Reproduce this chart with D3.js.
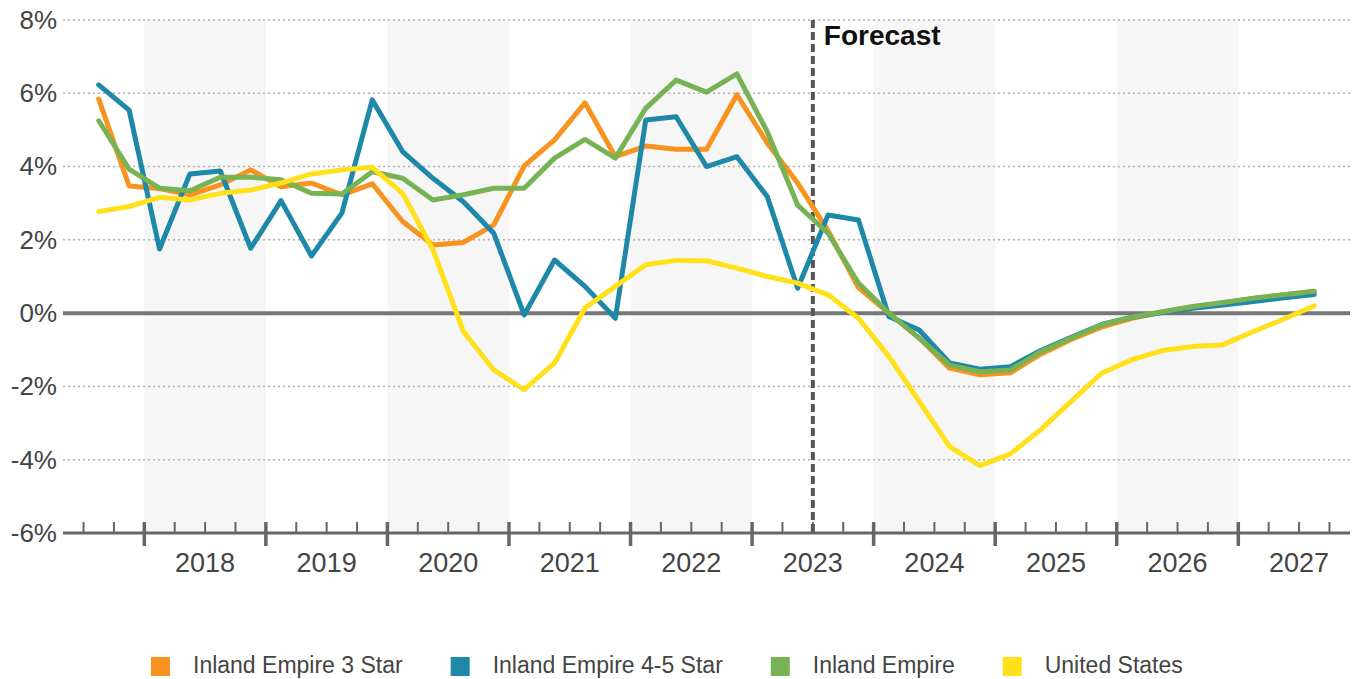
<!DOCTYPE html>
<html>
<head>
<meta charset="utf-8">
<script src="https://cdn.jsdelivr.net/npm/d3@7"></script>
<style>
  html, body { margin: 0; padding: 0; background: #fff; }
  svg { display: block; font-family: "Liberation Sans", Arial, sans-serif; }
</style>
</head>
<body>
<svg id="chart" width="1355" height="679"></svg>
<script>
// ---- Data ----
const periods = [
  "2017 Q3","2017 Q4",
  "2018 Q1","2018 Q2","2018 Q3","2018 Q4",
  "2019 Q1","2019 Q2","2019 Q3","2019 Q4",
  "2020 Q1","2020 Q2","2020 Q3","2020 Q4",
  "2021 Q1","2021 Q2","2021 Q3","2021 Q4",
  "2022 Q1","2022 Q2","2022 Q3","2022 Q4",
  "2023 Q1","2023 Q2","2023 Q3","2023 Q4",
  "2024 Q1","2024 Q2","2024 Q3","2024 Q4",
  "2025 Q1","2025 Q2","2025 Q3","2025 Q4",
  "2026 Q1","2026 Q2","2026 Q3","2026 Q4",
  "2027 Q1","2027 Q2","2027 Q3"
];

const ie3Star = [
  5.84, 3.47,
  3.40, 3.23, 3.50, 3.91,
  3.45, 3.55, 3.23, 3.53,
  2.50, 1.86, 1.93, 2.41,
  4.02, 4.73, 5.74, 4.27,
  4.56, 4.47, 4.47, 5.96,
  4.64, 3.55, 2.25, 0.70,
  0.00, -0.68, -1.50, -1.68,
  -1.63, -1.12, -0.72, -0.38,
  -0.14, 0.03, 0.17, 0.28,
  0.40, 0.50, 0.59
];

const ie45Star = [
  6.23, 5.54,
  1.75, 3.80, 3.88, 1.77,
  3.07, 1.56, 2.73, 5.82,
  4.41, 3.68, 3.04, 2.18,
  -0.05, 1.45, 0.73, -0.14,
  5.27, 5.36, 4.00, 4.27,
  3.18, 0.68, 2.68, 2.54,
  -0.09, -0.46, -1.36, -1.53,
  -1.46, -1.02, -0.66, -0.31,
  -0.11, 0.02, 0.13, 0.22,
  0.32, 0.42, 0.51
];

const ieTotal = [
  5.25, 3.93,
  3.41, 3.34, 3.71, 3.71,
  3.64, 3.27, 3.25, 3.86,
  3.68, 3.09, 3.23, 3.41,
  3.41, 4.23, 4.74, 4.23,
  5.59, 6.36, 6.03, 6.53,
  4.95, 2.95, 2.18, 0.82,
  0.00, -0.68, -1.42, -1.60,
  -1.55, -1.05, -0.68, -0.32,
  -0.11, 0.04, 0.18, 0.29,
  0.41, 0.50, 0.60
];

const unitedStates = [
  2.77, 2.91,
  3.16, 3.09, 3.27, 3.36,
  3.55, 3.80, 3.91, 3.98,
  3.27, 1.73, -0.50, -1.55,
  -2.09, -1.36, 0.14, 0.73,
  1.32, 1.44, 1.43, 1.23,
  1.00, 0.82, 0.50, -0.14,
  -1.18, -2.41, -3.64, -4.16,
  -3.84, -3.18, -2.41, -1.64,
  -1.27, -1.02, -0.91, -0.86,
  -0.50, -0.16, 0.20
];

const seriesNames = ["Inland Empire 3 Star", "Inland Empire 4-5 Star", "Inland Empire", "United States"];
const seriesColors = ["#F7931E", "#1D88A8", "#77B255", "#FFE01A"];
const seriesValues = [ie3Star, ie45Star, ieTotal, unitedStates];

const yearLabels = ["2018","2019","2020","2021","2022","2023","2024","2025","2026","2027"];
const yTicks = [-6, -4, -2, 0, 2, 4, 6, 8];
const forecastStart = "2023 Q3";
const forecastLabel = "Forecast";

// ---- Layout ----
const svg = d3.select("#chart");
const plotLeft = 63, plotRight = 1350, plotTop = 20, plotBottom = 533;

function periodToDecimal(p, offset) {
  const [yr, q] = p.split(" Q").map(Number);
  return yr + (q - 1) / 4 + offset;
}

const x = d3.scaleLinear().domain([2017.331, 2027.919]).range([plotLeft, plotRight]);
const y = d3.scaleLinear().domain([-6, 8]).range([plotBottom, plotTop]);

// Alternating year bands
const bandYears = yearLabels.filter((d, i) => i % 2 === 0).map(Number);
svg.append("g").selectAll("rect").data(bandYears).join("rect")
  .attr("x", d => x(d)).attr("width", d => x(d + 1) - x(d))
  .attr("y", plotTop).attr("height", plotBottom - plotTop)
  .attr("fill", "#f6f6f6");

// Gridlines (dotted)
svg.append("g").selectAll("line").data(yTicks.filter(d => d !== 0 && d !== -6)).join("line")
  .attr("x1", plotLeft).attr("x2", plotRight)
  .attr("y1", d => y(d)).attr("y2", d => y(d))
  .attr("stroke", "#b0b0b0").attr("stroke-width", 1.5)
  .attr("stroke-dasharray", "2,3");

// Zero line
svg.append("line")
  .attr("x1", plotLeft).attr("x2", plotRight)
  .attr("y1", y(0)).attr("y2", y(0))
  .attr("stroke", "#777").attr("stroke-width", 4);

// Y axis labels
const yAxis = d3.axisLeft(y).tickValues(yTicks).tickSize(0).tickPadding(6)
  .tickFormat(d => d + "%");
const yg = svg.append("g").attr("transform", `translate(${plotLeft},0)`).call(yAxis);
yg.select(".domain").remove();
yg.selectAll("text").attr("font-size", 26).attr("fill", "#444")
  .attr("font-family", "Liberation Sans, Arial, sans-serif");

// Bottom axis line
svg.append("line")
  .attr("x1", plotLeft).attr("x2", plotRight)
  .attr("y1", plotBottom).attr("y2", plotBottom)
  .attr("stroke", "#666").attr("stroke-width", 3);

// Quarter ticks
const allQuarterStarts = [];
for (let yr = 2017; yr <= 2027; yr++) {
  for (let q = 1; q <= 4; q++) {
    const v = yr + (q - 1) / 4;
    if (v > x.domain()[0] && v < x.domain()[1]) allQuarterStarts.push({ v, major: q === 1 });
  }
}
svg.append("g").selectAll("line").data(allQuarterStarts).join("line")
  .attr("x1", d => x(d.v)).attr("x2", d => x(d.v))
  .attr("y1", plotBottom - 11)
  .attr("y2", d => d.major ? plotBottom + 13 : plotBottom)
  .attr("stroke", "#666")
  .attr("stroke-width", d => d.major ? 3.5 : 2);

// Year labels
svg.append("g").selectAll("text").data(yearLabels).join("text")
  .attr("x", d => x(+d + 0.5)).attr("y", 572)
  .attr("text-anchor", "middle")
  .attr("font-size", 27).attr("fill", "#444")
  .text(d => d);

// Forecast divider
const fx = x(periodToDecimal(forecastStart, 0));
svg.append("line")
  .attr("x1", fx).attr("x2", fx).attr("y1", plotTop).attr("y2", plotBottom)
  .attr("stroke", "#555").attr("stroke-width", 4)
  .attr("stroke-dasharray", "8,4");
svg.append("text")
  .attr("x", fx + 11).attr("y", 45)
  .attr("font-size", 28).attr("font-weight", "bold").attr("fill", "#111")
  .text(forecastLabel);

// Lines
const line = d3.line()
  .x((d, i) => x(periodToDecimal(periods[i], 0.125)))
  .y(d => y(d));

svg.append("g").selectAll("path").data(seriesValues).join("path")
  .attr("d", d => line(d))
  .attr("fill", "none")
  .attr("stroke", (d, i) => seriesColors[i])
  .attr("stroke-width", 5)
  .attr("stroke-linejoin", "round")
  .attr("stroke-linecap", "round");

// Legend
const lg = svg.append("g");
let lx = 151;
seriesNames.forEach((name, i) => {
  lg.append("rect").attr("x", lx).attr("y", 657).attr("width", 19).attr("height", 19)
    .attr("fill", seriesColors[i]);
  const t = lg.append("text").attr("x", lx + 42).attr("y", 673)
    .attr("font-size", 23).attr("fill", "#444").text(name);
  lx += 42 + t.node().getComputedTextLength() + 48;
});
</script>
</body>
</html>
